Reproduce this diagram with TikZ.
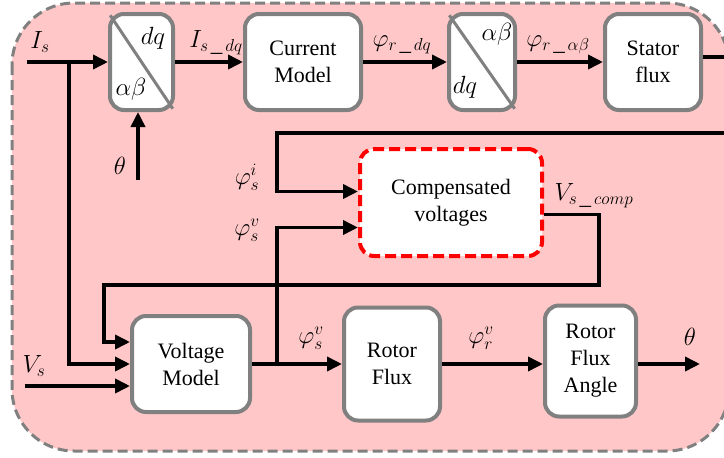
\documentclass[tikz,border=0pt]{standalone}
\usepackage{fontspec}
\setmainfont{Liberation Serif}
\usepackage{tikz}
\usetikzlibrary{arrows.meta, positioning, calc}
\definecolor{bgpink}{RGB}{255,199,199}
\definecolor{edgegray}{RGB}{128,128,128}
\tikzset{
  %% white block
  blk/.style={
    rectangle, rounded corners=14pt,
    draw=edgegray, fill=white, line width=4pt,
    align=center, font=\rmfamily\fontsize{22}{27}\selectfont,
    inner sep=2pt
  },
  %% compensation block
  cmpbox/.style={
    blk, draw=red, dash pattern=on 11pt off 5pt
  },
  %% signal labels
  sig/.style={font=\fontsize{23}{26}\selectfont, inner sep=0pt},
  %% wires
  wire/.style={draw=black, line width=3.6pt},
  arr/.style={wire, -{Triangle[length=15pt,width=14pt]}},
}

\begin{document}
\begin{tikzpicture}[x=1pt, y=-1pt]
  \useasboundingbox (0,0) rectangle (724,458);
  \clip (0,0) rectangle (724,458);

  % frame
  \draw[fill=bgpink, draw=edgegray, line width=3pt, dash pattern=on 10pt off 5pt,
        rounded corners=62pt] (12,3) rectangle (729,451);

  % top row
  \node[blk, minimum width=63pt, minimum height=96pt] (t1) at (141.5,62) {};
  \node[blk, minimum width=116pt, minimum height=96pt] (cm) at (303,62) {Current\\Model};
  \node[blk, minimum width=66pt, minimum height=96pt] (t2) at (482,62) {};
  \node[blk, minimum width=96pt, minimum height=96pt] (sf) at (653,62) {Stator\\flux};

  \draw[edgegray, line width=3pt, shorten <=4pt, shorten >=4pt] (t1.north west) -- (t1.south east);
  \draw[edgegray, line width=3pt, shorten <=4pt, shorten >=4pt] (t2.north west) -- (t2.south east);
  \node[sig] (t1dq) at (153,38) {$dq$};
  \node[sig] (t1ab) at (131,89) {$\alpha\beta$};
  \node[sig] (t2ab) at (497,34) {$\alpha\beta$};
  \node[sig] (t2dq) at (465,87) {$dq$};

  % middle
  \node[cmpbox, minimum width=182pt, minimum height=107pt] (cv) at (451,202.5)
       {Compensated\\voltages};

  % bottom row
  \node[blk, minimum width=118pt, minimum height=96pt] (vm) at (191,364) {Voltage\\Model};
  \node[blk, minimum width=96pt, minimum height=113pt] (rf) at (392,364) {Rotor\\Flux};
  \node[blk, minimum width=91pt, minimum height=111pt] (rfa) at (590.5,361) {Rotor\\Flux\\Angle};

  % free ends and corners
  \coordinate (isin) at (27,62);
  \coordinate (isj) at (69,62);
  \coordinate (thin) at (138,180);
  \coordinate (vsin) at (25,386);
  \coordinate (fbkturn) at (277,133);
  \coordinate (vmj) at (277,364);
  \coordinate (cmpturn) at (599,285);
  \coordinate (cmpleft) at (104,285);
  \coordinate (thout) at (700,364);

  % connectors
  \draw[arr] (isin) -- (t1);
  \draw[arr] (isj) |- (vm.west);
  \draw[arr] (thin) -- (thin |- t1.south);
  \draw[arr] (vsin) -- ([yshift=-22pt]vm.west);
  \foreach \a/\b in {t1/cm, cm/t2, t2/sf, vm/rf}
    \draw[arr] (\a) -- (\b);
  \draw[arr] ([yshift=5pt]sf.east) -- ++(40,0) |- (fbkturn) |- ([yshift=11pt]cv.west);
  \draw[arr] (vmj) |- ([yshift=-25pt]cv.west);
  \draw[arr] ([yshift=-12pt]cv.east) -| (cmpturn) -- (cmpleft) |- ([yshift=22pt]vm.west);
  \draw[arr] (rf.east) -- (rf.east -| rfa.west);
  \draw[arr] (rfa.east |- thout) -- (thout);

  % signal names
  \node[sig] (lis) at (40,42) {$I_s$};
  \node[sig] (lisdq) at (216,43) {$I_{s\,\_\,dq}$};
  \node[sig] (lprdq) at (402,45) {$\varphi_{r\,\_\,dq}$};
  \node[sig] (lprab) at (558,45) {$\varphi_{r\,\_\,\alpha\beta}$};
  \node[sig] (lth) at (120,166) {$\theta$};
  \node[sig] (lpsi) at (247,177) {$\varphi_s^i$};
  \node[sig] (lpsv) at (247,230) {$\varphi_s^v$};
  \node[sig] (lvcomp) at (594,196) {$V_{s\,\_\,comp}$};
  \node[sig] (lvs) at (34,366) {$V_s$};
  \node[sig] (lpsv2) at (311,338) {$\varphi_s^v$};
  \node[sig] (lprv) at (481,338) {$\varphi_r^v$};
  \node[sig] (lthout) at (690,337) {$\theta$};
\end{tikzpicture}
\end{document}
